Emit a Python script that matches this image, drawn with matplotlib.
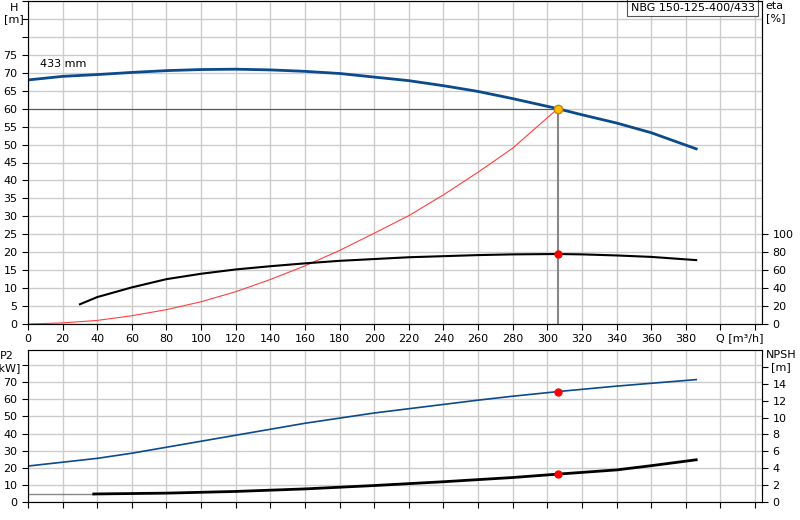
import matplotlib
matplotlib.use("Agg")
import matplotlib.pyplot as plt

q_h = [0,20,40,60,80,100,120,140,160,180,200,220,240,260,280,306,320,340,360,386]
h = [68,69,69.5,70.1,70.6,70.9,71,70.8,70.4,69.8,68.8,67.8,66.4,64.8,62.8,60,58.3,56,53.3,48.8]
q_eta = [30,40,60,80,100,120,140,160,180,200,220,240,260,280,306,320,340,360,386]
eta = [22,30,40.8,50,56,60.8,64.4,67.6,70.4,72.4,74.4,75.6,76.8,77.6,78,77.6,76.4,74.8,71.2]
q_sys = [0,20,40,60,80,100,120,140,160,180,200,220,240,260,280,306]
h_sys = [0,0.3,1,2.3,4,6.2,9,12.4,16.2,20.5,25.3,30.2,36,42.3,49,60]
q_p2 = [0,40,60,80,100,120,140,160,180,200,220,240,260,280,306,340,386]
p2 = [21,25.5,28.5,32,35.5,39,42.5,46,49,52,54.5,57,59.5,61.8,64.5,67.7,71.5]
q_npsh = [38,80,120,160,200,240,280,306,340,360,386]
npsh = [0.95,1.05,1.25,1.55,1.95,2.4,2.9,3.3,3.8,4.3,5.0]
duty_q, duty_h, duty_eta, duty_p2, duty_npsh = 306, 60, 78, 64.5, 3.3

fig = plt.figure(figsize=(8, 5.2), dpi=100)
W, H = 800, 520
ax = fig.add_axes([28/W, 1-324/H, 734/W, 323/H])
ax2 = fig.add_axes([28/W, 1-502/H, 734/W, 152/H])
grid = dict(color="#cccccc", lw=1)
for a in (ax, ax2):
    a.set_xlim(0, 424)
    a.set_xticks(range(0, 421, 20))
    a.grid(True, **grid)
    a.set_axisbelow(True)
    a.tick_params(labelsize=8, direction="out", length=4)
    for s in a.spines.values():
        s.set_color("#555555")

ax.set_ylim(0, 90)
ax.set_yticks(range(0, 91, 5))
ax.set_yticklabels([str(v) if v <= 75 else "" for v in range(0, 91, 5)])
ax.set_xticklabels([str(v) if v <= 380 else "" for v in range(0, 421, 20)])
ax.text(425, -2.5, "Q [m³/h]", ha="right", va="top", fontsize=8)
ax.text(-8, 89.5, "H\n[m]", ha="center", va="top", fontsize=8, multialignment="center")
ax.text(7, 71.5, "433 mm", fontsize=8)
ax.text(0.99, 0.995, "NBG 150-125-400/433", transform=ax.transAxes, ha="right", va="top", fontsize=8,
        bbox=dict(boxstyle="square,pad=0.3", fc="white", ec="#555555", lw=0.8))

axr = ax.twinx()
axr.set_ylim(0, 360)
axr.set_yticks(range(0, 101, 20))
axr.tick_params(labelsize=8, length=4)
axr.text(1.005, 1.0, "eta\n[%]", transform=ax.transAxes, ha="left", va="top", fontsize=8)

ax.plot([0, duty_q], [duty_h, duty_h], color="#555555", lw=0.8)
ax.plot([duty_q, duty_q], [0, duty_h], color="#888888", lw=1.5)
ax.plot(q_sys, h_sys, color="#ff4040", lw=0.8)
ax.plot(q_h, h, color="#0b4a8b", lw=2)
axr.plot(q_eta, eta, color="black", lw=1.5)
axr.plot(duty_q, duty_eta, "o", color="red", ms=5)
ax.plot(duty_q, duty_h, "o", color="#ffc000", mec="#d08000", ms=6, zorder=5)

ax2.set_ylim(0, 88.8)
ax2.set_yticks(range(0, 81, 10))
ax2.set_yticklabels([str(v) if v <= 70 else "" for v in range(0, 81, 10)])
ax2.set_xticklabels([])
ax2.text(-12, 88, "P2\n[kW]", ha="center", va="top", fontsize=8, multialignment="center")
ax2r = ax2.twinx()
ax2r.set_ylim(0, 18.0)
ax2r.set_yticks(range(0, 17, 2))
ax2r.set_yticklabels([str(v) if v <= 14 else "" for v in range(0, 17, 2)])
ax2r.tick_params(labelsize=8, length=4)
ax2r.text(1.005, 1.0, "NPSH\n[m]", transform=ax2.transAxes, ha="left", va="top", fontsize=8, multialignment="center")
ax2.plot(q_p2, p2, color="#0b4a8b", lw=1.2)
ax2.plot(duty_q, duty_p2, "o", color="red", ms=5)
ax2r.plot([0, q_npsh[0]], [npsh[0], npsh[0]], color="#888888", lw=1)
ax2r.plot(q_npsh, npsh, color="black", lw=2)
ax2r.plot(duty_q, duty_npsh, "o", color="red", ms=5)

fig.savefig("out.png", dpi=100)
